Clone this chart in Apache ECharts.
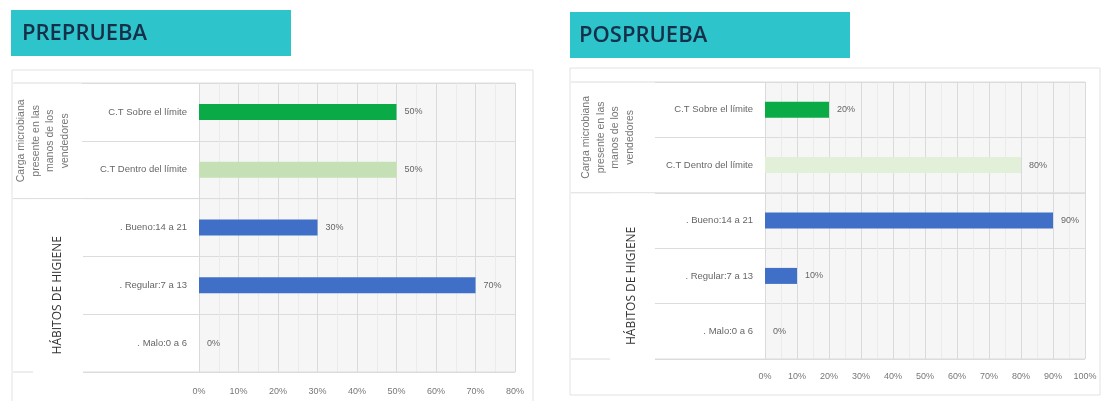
<!DOCTYPE html>
<html>
<head>
<meta charset="utf-8">
<script src="https://cdn.jsdelivr.net/npm/echarts@6/dist/echarts.min.js"></script>
<style>
  html, body { margin: 0; padding: 0; background: #fff; }
  #chart { width: 1112px; height: 401px; }
</style>
</head>
<body>
<div id="chart"></div>
<script>
  // datos
  var categorias = ['C.T Sobre el límite', 'C.T Dentro del límite', '. Bueno:14 a 21', '. Regular:7 a 13', '. Malo:0 a 6']
  var preprueba = [50, 50, 30, 70, 0]
  var posprueba = [20, 80, 90, 10, 0]
  var maxPre = 80
  var maxPos = 100
  var titulos = ['PREPRUEBA', 'POSPRUEBA']
  var grupos = ['Carga microbiana\npresente en las\nmanos de los\nvendedores', 'HÁBITOS DE HIGIENE']

  var coloresPre = ['#0aab47', '#c5e0b4', '#3f6fc6', '#3f6fc6', '#3f6fc6']
  var coloresPos = ['#0aab47', '#e2f0d9', '#3f6fc6', '#3f6fc6', '#3f6fc6']
  var fuente = 'Liberation Sans'

  var chart = echarts.init(document.getElementById('chart'))

  function ejeX(idx, max, margen) {
    return {
      type: 'value', gridIndex: idx, min: 0, max: max, interval: 10,
      axisLine: { show: false },
      axisTick: { show: false },
      axisLabel: { formatter: '{value}%', fontSize: 9, color: '#777', margin: margen, fontFamily: fuente },
      splitLine: { lineStyle: { color: '#dadada' } },
      minorTick: { show: false, splitNumber: 2 },
      minorSplitLine: { show: true, lineStyle: { color: '#ebebeb' } }
    }
  }

  function ejeY(idx, largoTick) {
    return {
      type: 'category', gridIndex: idx, data: categorias, inverse: true,
      axisLine: { show: false },
      axisTick: { show: true, length: largoTick, lineStyle: { color: '#dcdcdc' } },
      axisLabel: { fontSize: 9.5, color: '#666', margin: 12, fontFamily: fuente },
      splitLine: { show: true, lineStyle: { color: '#dcdcdc' } }
    }
  }

  function serie(idx, valores, colores) {
    return {
      type: 'bar', xAxisIndex: idx, yAxisIndex: idx, barWidth: 16,
      data: valores.map(function (v, i) { return { value: v, itemStyle: { color: colores[i] } } }),
      label: { show: true, position: 'right', distance: 8, formatter: '{c}%', fontSize: 9, color: '#666', fontFamily: fuente }
    }
  }

  var option = {
    animation: false,
    grid: [
      { left: 199, top: 83, width: 316, height: 289, show: true, backgroundColor: '#f6f6f6', borderWidth: 0 },
      { left: 765, top: 82, width: 320, height: 277, show: true, backgroundColor: '#f6f6f6', borderWidth: 0 }
    ],
    xAxis: [ejeX(0, maxPre, 15), ejeX(1, maxPos, 13)],
    yAxis: [ejeY(0, 117), ejeY(1, 110)],
    series: [serie(0, preprueba, coloresPre), serie(1, posprueba, coloresPos)]
  }
  chart.setOption(option)

  // tarjetas, encabezados y etiquetas de grupo
  var paneles = [
    { card: [12, 70, 521, 340], head: [11, 10, 280, 46], textoX: 22, cargaX: 43, habX: 58, cajaX: [33, 83] },
    { card: [570, 68, 530, 327], head: [570, 12, 280, 46], textoX: 579, cargaX: 608, habX: 632, cajaX: [610, 655] }
  ]
  var graficos = []
  paneles.forEach(function (p, idx) {
    var c0 = chart.convertToPixel({ yAxisIndex: idx }, categorias[0])
    var c1 = chart.convertToPixel({ yAxisIndex: idx }, categorias[1])
    var banda = c1 - c0
    var arriba = c0 - banda / 2
    var medio = c1 + banda / 2
    var abajo = chart.convertToPixel({ yAxisIndex: idx }, categorias[categorias.length - 1]) + banda / 2
    var derecha = chart.convertToPixel({ xAxisIndex: idx }, idx === 0 ? maxPre : maxPos)

    graficos.push({ type: 'rect', shape: { x: p.card[0], y: p.card[1], width: p.card[2], height: p.card[3] },
      style: { fill: 'transparent', stroke: '#e2e2e2', lineWidth: 1 }, z: 1 })
    graficos.push({ type: 'rect', shape: { x: p.head[0], y: p.head[1], width: p.head[2], height: p.head[3] },
      style: { fill: '#2ec4cc' }, z: 1 })
    graficos.push({ type: 'text', x: p.textoX, y: p.head[1] + p.head[3] / 2 + 1,
      style: { text: titulos[idx], fill: '#16304a', font: '600 22px "Open Sans"', textVerticalAlign: 'middle' }, z: 2 })

    ;[arriba, medio, abajo].forEach(function (y) {
      graficos.push({ type: 'line', shape: { x1: p.card[0] + 1, y1: y, x2: derecha, y2: y },
        style: { stroke: '#dcdcdc', lineWidth: 1 }, z: 5 })
    })
    graficos.push({ type: 'rect', shape: { x: p.cajaX[0], y: medio + 1, width: p.cajaX[1] - p.cajaX[0], height: abajo - medio + 4 },
      style: { fill: '#fff' }, z: 10 })
    graficos.push({ type: 'text', x: p.cargaX, y: (arriba + medio) / 2, rotation: Math.PI / 2,
      style: { text: grupos[0], fill: '#777', font: '10.5px "Liberation Sans"', lineHeight: 14.5,
        textAlign: 'center', textVerticalAlign: 'middle' }, z: 11 })
    graficos.push({ type: 'text', x: p.habX, y: (medio + abajo) / 2 + 10, rotation: Math.PI / 2,
      style: { text: grupos[1], fill: '#333', font: '12px "Open Sans"',
        textAlign: 'center', textVerticalAlign: 'middle' }, z: 11 })
  })
  chart.setOption({ graphic: graficos })
</script>
</body>
</html>
